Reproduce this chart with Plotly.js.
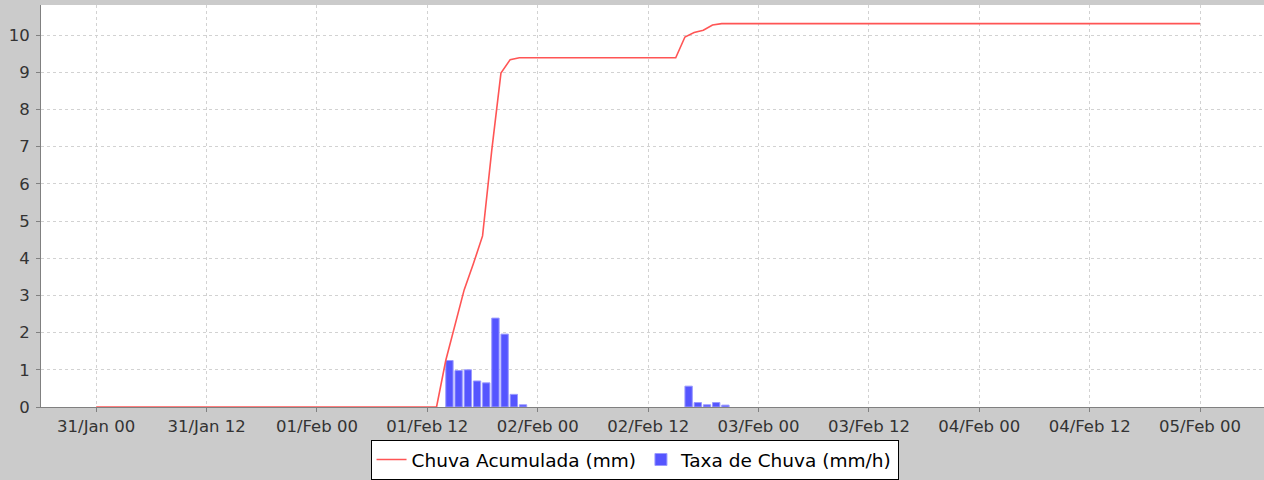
<!DOCTYPE html>
<html>
<head>
<meta charset="utf-8">
<script src="https://cdn.plot.ly/plotly-3.0.1.min.js"></script>
<style>
  html, body { margin: 0; padding: 0; background: #cbcbcb; }
  #chart { width: 1264px; height: 480px; }
</style>
</head>
<body>
<div id="chart"></div>
<script>
// Accumulated rain (mm) — red line
const lineTimes = [
  '2019-01-31 00:00', '2019-02-01 13:00', '2019-02-01 14:00', '2019-02-01 15:00',
  '2019-02-01 16:00', '2019-02-01 17:00', '2019-02-01 18:00', '2019-02-01 19:00',
  '2019-02-01 20:00', '2019-02-01 21:00', '2019-02-01 22:00', '2019-02-02 15:00',
  '2019-02-02 16:00', '2019-02-02 17:00', '2019-02-02 18:00', '2019-02-02 19:00',
  '2019-02-02 20:00', '2019-02-05 00:00'
];
const lineValues = [
  0, 0, 1.25, 2.22,
  3.15, 3.85, 4.6, 6.9,
  8.98, 9.34, 9.39, 9.39,
  9.95, 10.07, 10.13, 10.27,
  10.31, 10.31
];

// Rain rate (mm/h) — blue bars
const barTimes = [
  '2019-02-01 14:00', '2019-02-01 15:00', '2019-02-01 16:00', '2019-02-01 17:00',
  '2019-02-01 18:00', '2019-02-01 19:00', '2019-02-01 20:00', '2019-02-01 21:00',
  '2019-02-01 22:00',
  '2019-02-02 16:00', '2019-02-02 17:00', '2019-02-02 18:00', '2019-02-02 19:00',
  '2019-02-02 20:00'
];
const barValues = [
  1.25, 0.98, 1.0, 0.70,
  0.65, 2.39, 1.96, 0.34,
  0.06,
  0.56, 0.12, 0.06, 0.12,
  0.05
];

// Axis ticks
const xTickVals = [
  '2019-01-31 00:00', '2019-01-31 12:00', '2019-02-01 00:00', '2019-02-01 12:00',
  '2019-02-02 00:00', '2019-02-02 12:00', '2019-02-03 00:00', '2019-02-03 12:00',
  '2019-02-04 00:00', '2019-02-04 12:00', '2019-02-05 00:00'
];
const xTickText = [
  '31/Jan 00', '31/Jan 12', '01/Feb 00', '01/Feb 12',
  '02/Feb 00', '02/Feb 12', '03/Feb 00', '03/Feb 12',
  '04/Feb 00', '04/Feb 12', '05/Feb 00'
];
const yTickVals = [0, 1, 2, 3, 4, 5, 6, 7, 8, 9, 10];

const HOUR = 3600000;

const traces = [
  {
    type: 'scatter', mode: 'lines', name: 'Chuva Acumulada (mm)',
    x: lineTimes, y: lineValues,
    line: { color: '#ff5555', width: 1.6 }
  },
  {
    type: 'bar', name: 'Taxa de Chuva (mm/h)',
    x: barTimes, y: barValues,
    width: 0.8 * HOUR, offset: 0,
    marker: { color: '#5555ff', line: { color: '#9a9aff', width: 1 } }
  }
];

const tickFont = { family: 'DejaVu Sans, sans-serif', size: 16.5, color: '#333333' };

const layout = {
  width: 1264, height: 480,
  paper_bgcolor: '#cbcbcb', plot_bgcolor: '#ffffff',
  margin: { l: 41, r: 0, t: 5, b: 73, pad: 0 },
  showlegend: true,
  legend: {
    orientation: 'h', xref: 'container', yref: 'container',
    x: 0.502, xanchor: 'center', y: 0.0417, yanchor: 'middle',
    bgcolor: '#ffffff', bordercolor: '#000000', borderwidth: 1,
    font: { family: 'DejaVu Sans, sans-serif', size: 18.5, color: '#000000' },
    traceorder: 'normal', itemwidth: 30, tracegroupgap: 0
  },
  bargap: 0,
  xaxis: {
    type: 'date',
    range: ['2019-01-30 18:00', '2019-02-05 06:57'],
    tickmode: 'array', tickvals: xTickVals, ticktext: xTickText,
    ticks: 'outside', ticklen: 4, tickcolor: '#808080',
    tickfont: tickFont,
    showgrid: true, gridcolor: '#d2d2d2', griddash: '3px,3px', gridwidth: 1,
    showline: true, linecolor: '#808080', linewidth: 1,
    zeroline: false, fixedrange: true
  },
  yaxis: {
    range: [0, 10.81],
    tickmode: 'array', tickvals: yTickVals,
    ticks: 'outside', ticklen: 4, tickcolor: '#808080',
    tickfont: tickFont, ticklabelstandoff: 3,
    showgrid: true, gridcolor: '#d2d2d2', griddash: '3px,3px', gridwidth: 1,
    showline: true, linecolor: '#808080', linewidth: 1,
    zeroline: false, fixedrange: true
  }
};

Plotly.newPlot('chart', traces, layout, { displayModeBar: false, staticPlot: true });
</script>
</body>
</html>
